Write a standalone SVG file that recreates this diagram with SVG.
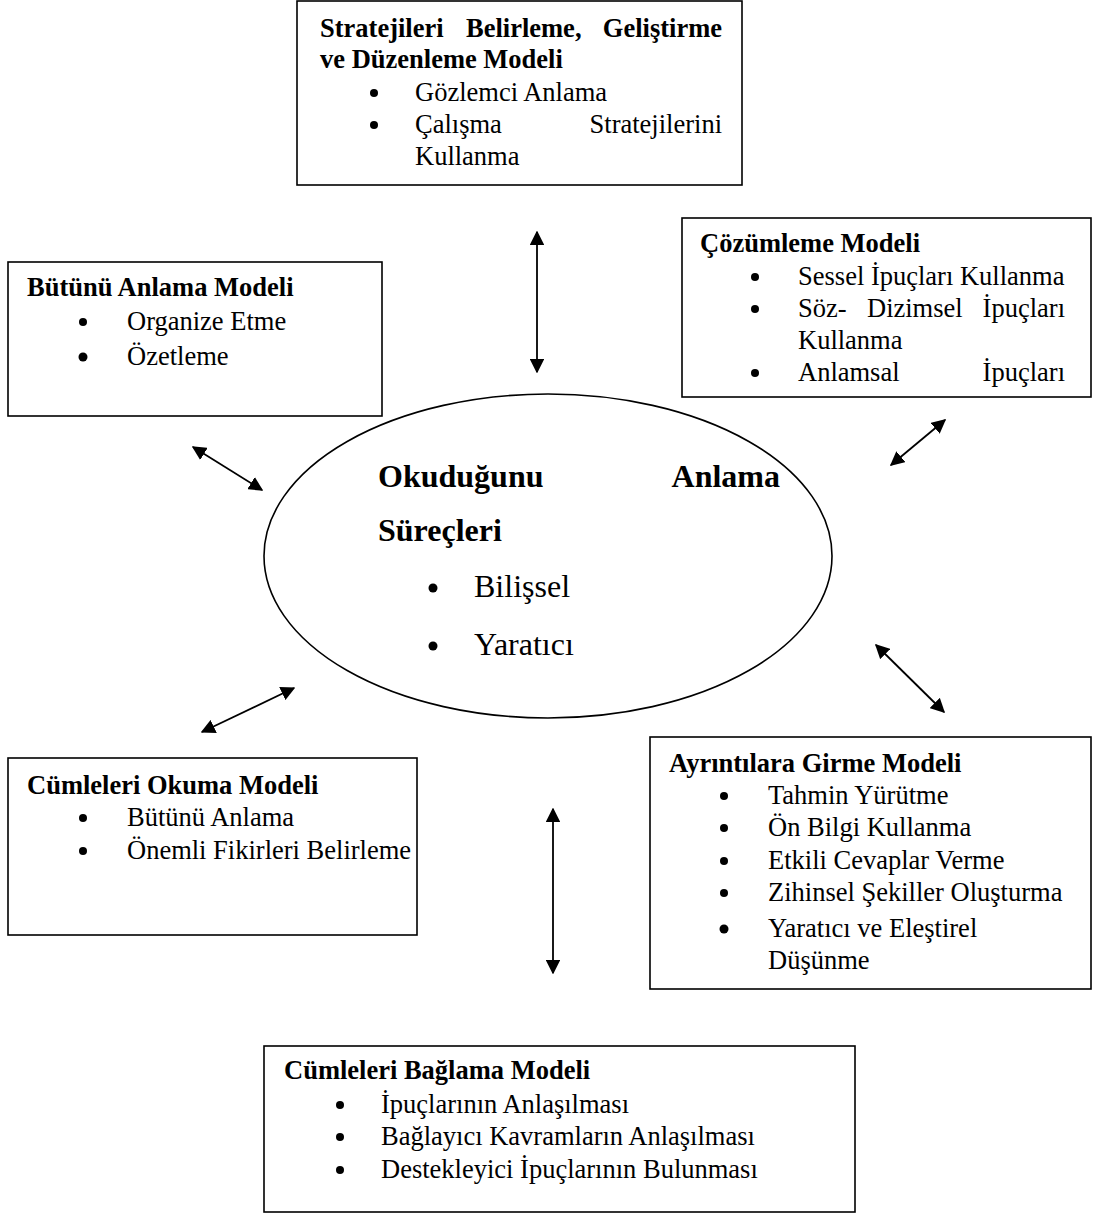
<svg xmlns="http://www.w3.org/2000/svg" width="1094" height="1214" viewBox="0 0 1094 1214">
<style>
.box{fill:#fff;stroke:#000;stroke-width:1.6}
.t{font-family:"Liberation Serif","Times New Roman",serif;font-size:26.5px;fill:#000}
.b{font-weight:bold}
.e{font-family:"Liberation Serif","Times New Roman",serif;font-size:32px;fill:#000}
.dot{fill:#000}
.conn{stroke:#000;stroke-width:1.8;fill:none;marker-start:url(#ah);marker-end:url(#ah)}
</style>
<defs>
<marker id="ah" viewBox="0 0 10 10" refX="9" refY="5" markerWidth="8" markerHeight="8" orient="auto-start-reverse" markerUnits="strokeWidth">
<path d="M0,0 L10,5 L0,10 z" fill="#000"/>
</marker>
</defs>
<rect width="1094" height="1214" fill="#fff"/>

<g id="node-strateji">
<rect class="box" x="297" y="1" width="445" height="184"/>
<text class="t b" x="320" y="37">Stratejileri</text>
<text class="t b" x="466" y="37">Belirleme,</text>
<text class="t b" x="722" y="37" text-anchor="end">Geliştirme</text>
<text class="t b" x="320" y="68">ve Düzenleme Modeli</text>
<circle class="dot" cx="374" cy="93" r="4"/>
<text class="t" x="415" y="101">Gözlemci Anlama</text>
<circle class="dot" cx="374" cy="125" r="4"/>
<text class="t" x="415" y="133">Çalışma</text>
<text class="t" x="722" y="133" text-anchor="end">Stratejilerini</text>
<text class="t" x="415" y="165">Kullanma</text>
</g>

<g id="node-butunu">
<rect class="box" x="8" y="262" width="374" height="154"/>
<text class="t b" x="27" y="296">Bütünü Anlama Modeli</text>
<circle class="dot" cx="83" cy="322" r="4"/>
<text class="t" x="127" y="330">Organize Etme</text>
<circle class="dot" cx="83" cy="357" r="4.5"/>
<text class="t" x="127" y="365">Özetleme</text>
</g>

<g id="node-cozumleme">
<rect class="box" x="682" y="218" width="409" height="179"/>
<text class="t b" x="700" y="252">Çözümleme Modeli</text>
<circle class="dot" cx="755" cy="277" r="4"/>
<text class="t" x="798" y="285">Sessel İpuçları Kullanma</text>
<circle class="dot" cx="755" cy="309" r="4"/>
<text class="t" x="798" y="317">Söz-</text>
<text class="t" x="867" y="317">Dizimsel</text>
<text class="t" x="1065" y="317" text-anchor="end">İpuçları</text>
<text class="t" x="798" y="349">Kullanma</text>
<circle class="dot" cx="755" cy="373" r="4"/>
<text class="t" x="798" y="381">Anlamsal</text>
<text class="t" x="1065" y="381" text-anchor="end">İpuçları</text>
</g>

<g id="node-center">
<ellipse class="box" cx="548" cy="556" rx="284" ry="162"/>
<text class="e b" x="378" y="487">Okuduğunu</text>
<text class="e b" x="780" y="487" text-anchor="end">Anlama</text>
<text class="e b" x="378" y="541">Süreçleri</text>
<circle class="dot" cx="433" cy="588" r="4.5"/>
<text class="e" x="474" y="597">Bilişsel</text>
<circle class="dot" cx="433" cy="646" r="4.5"/>
<text class="e" x="474" y="655">Yaratıcı</text>
</g>

<g id="node-ayrintilara">
<rect class="box" x="650" y="737" width="441" height="252"/>
<text class="t b" x="669" y="772">Ayrıntılara Girme Modeli</text>
<circle class="dot" cx="724" cy="796" r="4"/>
<text class="t" x="768" y="804">Tahmin Yürütme</text>
<circle class="dot" cx="724" cy="828" r="4"/>
<text class="t" x="768" y="836">Ön Bilgi Kullanma</text>
<circle class="dot" cx="724" cy="861" r="4"/>
<text class="t" x="768" y="869">Etkili Cevaplar Verme</text>
<circle class="dot" cx="724" cy="893" r="4"/>
<text class="t" x="768" y="901">Zihinsel Şekiller Oluşturma</text>
<circle class="dot" cx="724" cy="929" r="4.5"/>
<text class="t" x="768" y="937">Yaratıcı ve Eleştirel</text>
<text class="t" x="768" y="969">Düşünme</text>
</g>

<g id="node-cumleleri-okuma">
<rect class="box" x="8" y="758" width="409" height="177"/>
<text class="t b" x="27" y="794">Cümleleri Okuma Modeli</text>
<circle class="dot" cx="83" cy="818" r="4"/>
<text class="t" x="127" y="826">Bütünü Anlama</text>
<circle class="dot" cx="83" cy="851" r="4"/>
<text class="t" x="127" y="859">Önemli Fikirleri Belirleme</text>
</g>

<g id="node-cumleleri-baglama">
<rect class="box" x="264" y="1046" width="591" height="166"/>
<text class="t b" x="284" y="1079">Cümleleri Bağlama Modeli</text>
<circle class="dot" cx="340" cy="1105" r="4"/>
<text class="t" x="381" y="1113">İpuçlarının Anlaşılması</text>
<circle class="dot" cx="340" cy="1137" r="4"/>
<text class="t" x="381" y="1145">Bağlayıcı Kavramların Anlaşılması</text>
<circle class="dot" cx="340" cy="1170" r="4"/>
<text class="t" x="381" y="1178">Destekleyici İpuçlarının Bulunması</text>
</g>

<g id="connectors">
<line class="conn" x1="537" y1="232" x2="537" y2="372"/>
<line class="conn" x1="193" y1="447" x2="262" y2="490"/>
<line class="conn" x1="945" y1="420" x2="891" y2="465"/>
<line class="conn" x1="876" y1="645" x2="944" y2="712"/>
<line class="conn" x1="294" y1="688" x2="202" y2="732"/>
<line class="conn" x1="553" y1="809" x2="553" y2="973"/>
</g>
</svg>
